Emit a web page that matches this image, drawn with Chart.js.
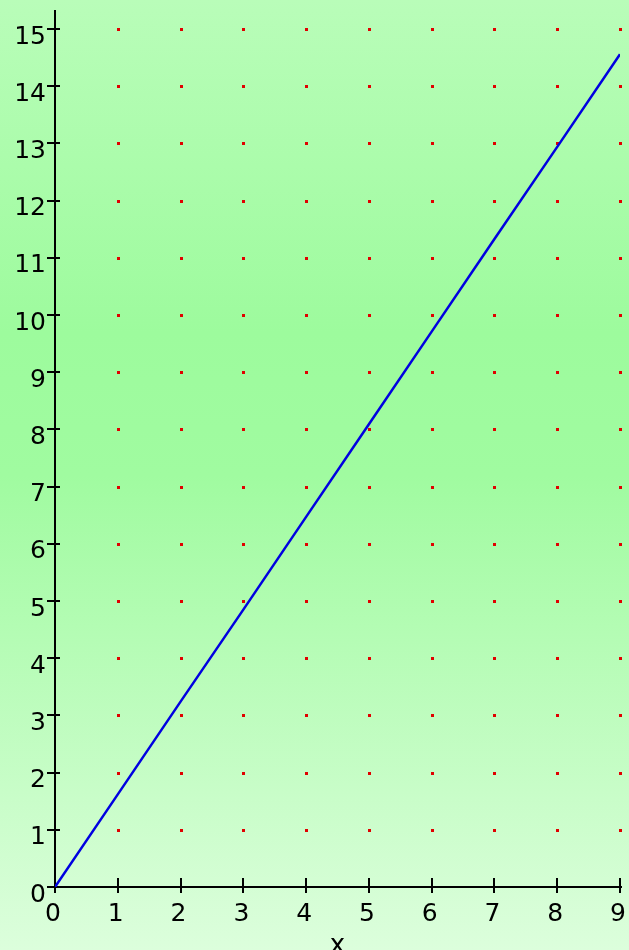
<!DOCTYPE html>
<html>
<head>
<meta charset="utf-8">
<script src="https://cdn.jsdelivr.net/npm/chart.js@4.4.1/dist/chart.umd.min.js"></script>
<style>
  html, body { margin: 0; padding: 0; background: #b8fcb8; }
  #wrap { width: 629px; height: 950px; position: relative; }
</style>
</head>
<body>
<div id="wrap"><canvas id="plot"></canvas></div>
<script>
// valores
const xVals = [0, 1, 2, 3, 4, 5, 6, 7, 8, 9];
const yVals = [0, 1.62, 3.24, 4.85, 6.47, 8.09, 9.71, 11.33, 12.94, 14.56];
const xTickLabels = ['0', '1', '2', '3', '4', '5', '6', '7', '8', '9'];
const yTickLabels = ['0', '1', '2', '3', '4', '5', '6', '7', '8', '9', '10', '11', '12', '13', '14', '15'];
const xTitle = 'x';

const fuente = '"DejaVu Sans", sans-serif';

// fondo degradado, puntos rojos y ejes con marcas que cruzan
const fondoYEjes = {
    id: 'fondoYEjes',
    beforeDraw(chart) {
        const ctx = chart.ctx;
        const g = ctx.createLinearGradient(0, 0, 0, chart.height);
        g.addColorStop(0, '#b9fdb9');
        g.addColorStop(0.35, '#9dfb9d');
        g.addColorStop(0.5, '#a0fba0');
        g.addColorStop(1, '#dcfedc');
        ctx.save();
        ctx.fillStyle = g;
        ctx.fillRect(0, 0, chart.width, chart.height);
        ctx.restore();
    },
    beforeDatasetsDraw(chart) {
        const ctx = chart.ctx;
        const xs = chart.scales.x;
        const ys = chart.scales.y;
        const x0 = Math.round(xs.getPixelForValue(0));
        const y0 = Math.round(ys.getPixelForValue(0));
        ctx.save();

        ctx.fillStyle = '#e00000';
        for (let i = 1; i < xTickLabels.length; i++) {
            for (let j = 1; j < yTickLabels.length; j++) {
                const px = Math.round(xs.getPixelForValue(i));
                const py = Math.round(ys.getPixelForValue(j));
                ctx.fillRect(px - 1, py - 1, 3, 3);
            }
        }

        ctx.fillStyle = '#000';
        // eje y
        ctx.fillRect(x0 - 1, 10, 2, y0 - 10 + 2);
        // eje x
        ctx.fillRect(x0 - 8, y0 - 1, Math.round(xs.getPixelForValue(9)) - x0 + 10, 2);
        // marcas eje y
        for (let j = 0; j < yTickLabels.length; j++) {
            const py = Math.round(ys.getPixelForValue(j));
            ctx.fillRect(x0 - 8, py - 1, 13, 2);
        }
        // marcas eje x
        for (let i = 0; i < xTickLabels.length; i++) {
            const px = Math.round(xs.getPixelForValue(i));
            ctx.fillRect(px - 1, y0 - 9, 2, 15);
        }
        ctx.restore();
    }
};

const puntos = xVals.map((x, i) => ({ x: x, y: yVals[i] }));

new Chart(document.getElementById('plot').getContext('2d'), {
    type: 'scatter',
    data: {
        datasets: [{
            data: puntos,
            showLine: true,
            borderColor: '#0000e0',
            borderWidth: 2.5,
            pointRadius: 0,
            tension: 0,
            fill: false
        }]
    },
    options: {
        responsive: true,
        maintainAspectRatio: false,
        animation: false,
        events: [],
        layout: { padding: { top: 29, right: 9, left: 0, bottom: 0 } },
        plugins: {
            legend: { display: false },
            tooltip: { enabled: false }
        },
        scales: {
            x: {
                type: 'linear',
                min: 0,
                max: 9,
                afterFit: (s) => { s.height = 63; s.paddingLeft = 0; s.paddingRight = 0; },
                grid: { display: false, drawTicks: false },
                border: { display: false },
                ticks: {
                    stepSize: 1,
                    padding: 12,
                    labelOffset: -2,
                    color: '#000',
                    font: { family: fuente, size: 25 },
                    callback: (v) => xTickLabels[v]
                },
                title: {
                    display: true,
                    text: xTitle,
                    color: '#000',
                    font: { family: fuente, size: 26 },
                    padding: { top: 0, bottom: -12 }
                }
            },
            y: {
                type: 'linear',
                min: 0,
                max: 15,
                afterFit: (s) => { s.width = 55; s.paddingTop = 0; s.paddingBottom = 0; },
                grid: { display: false, drawTicks: false },
                border: { display: false },
                ticks: {
                    stepSize: 1,
                    padding: 9,
                    labelOffset: 8,
                    color: '#000',
                    font: { family: fuente, size: 25 },
                    callback: (v) => yTickLabels[v]
                }
            }
        }
    },
    plugins: [fondoYEjes]
});
</script>
</body>
</html>
